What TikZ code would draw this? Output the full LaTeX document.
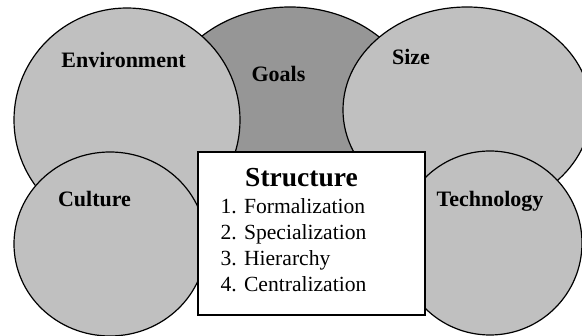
\documentclass[tikz,border=0pt]{standalone}
\usepackage{fontspec}
\setmainfont{Liberation Serif}
\usetikzlibrary{shapes.geometric}
\definecolor{lightfill}{RGB}{192,192,192}
\definecolor{darkfill}{RGB}{150,150,150}

\begin{document}
\begin{tikzpicture}[x = 1pt, y = -1pt, line width = 1.2pt,
    blob/.style = {ellipse, draw, fill = lightfill, inner sep = 0pt},
    factor/.style = {font = \fontsize{22}{26}\selectfont\bfseries, anchor = base},
    item/.style = {font = \fontsize{21.6}{26}\selectfont, anchor = base west}]
    \useasboundingbox (0,0) rectangle (582,336);
    \clip (0,0) rectangle (582,336);
    % the five factors, back to front
    \node[blob, fill = darkfill, minimum width = 260pt, minimum height = 220pt]	(goals)	at (290,117)	{};
    \node[blob, minimum width = 226pt, minimum height = 224pt]			(env)		at (127,120)	{};
    \node[blob, minimum width = 248pt, minimum height = 206pt]			(size)		at (467,110)	{};
    \node[blob, minimum width = 192pt, minimum height = 184pt]			(culture)	at (110,244)	{};
    \node[blob, minimum width = 184pt, minimum height = 184pt]			(tech)		at (490,243)	{};
    \node[factor]	(envlabel)		at (123.5,68)	{Environment};
    \node[factor]	(goalslabel)	at (278.5,82)	{Goals};
    \node[factor]	(sizelabel)		at (411,65)		{Size};
    \node[factor]	(culturelabel)	at (94.5,207)	{Culture};
    \node[factor]	(techlabel)		at (490,207)	{Technology};
    % structure box
    \node[draw, fill = white, minimum width = 227pt, minimum height = 163pt]	(structure)	at (311.5,233.5)	{};
    \node[font = \fontsize{27.5}{30}\selectfont\bfseries, anchor = base]	(title)	at (301.5,186.7)	{Structure};
    \node[item]	(i1)	at (216.7,213.3)	{1. Formalization};
    \node[item]	(i2)	at (216.7,239.3)	{2. Specialization};
    \node[item]	(i3)	at (216.7,265.3)	{3. Hierarchy};
    \node[item]	(i4)	at (216.7,292)		{4. Centralization};
\end{tikzpicture}
\end{document}
